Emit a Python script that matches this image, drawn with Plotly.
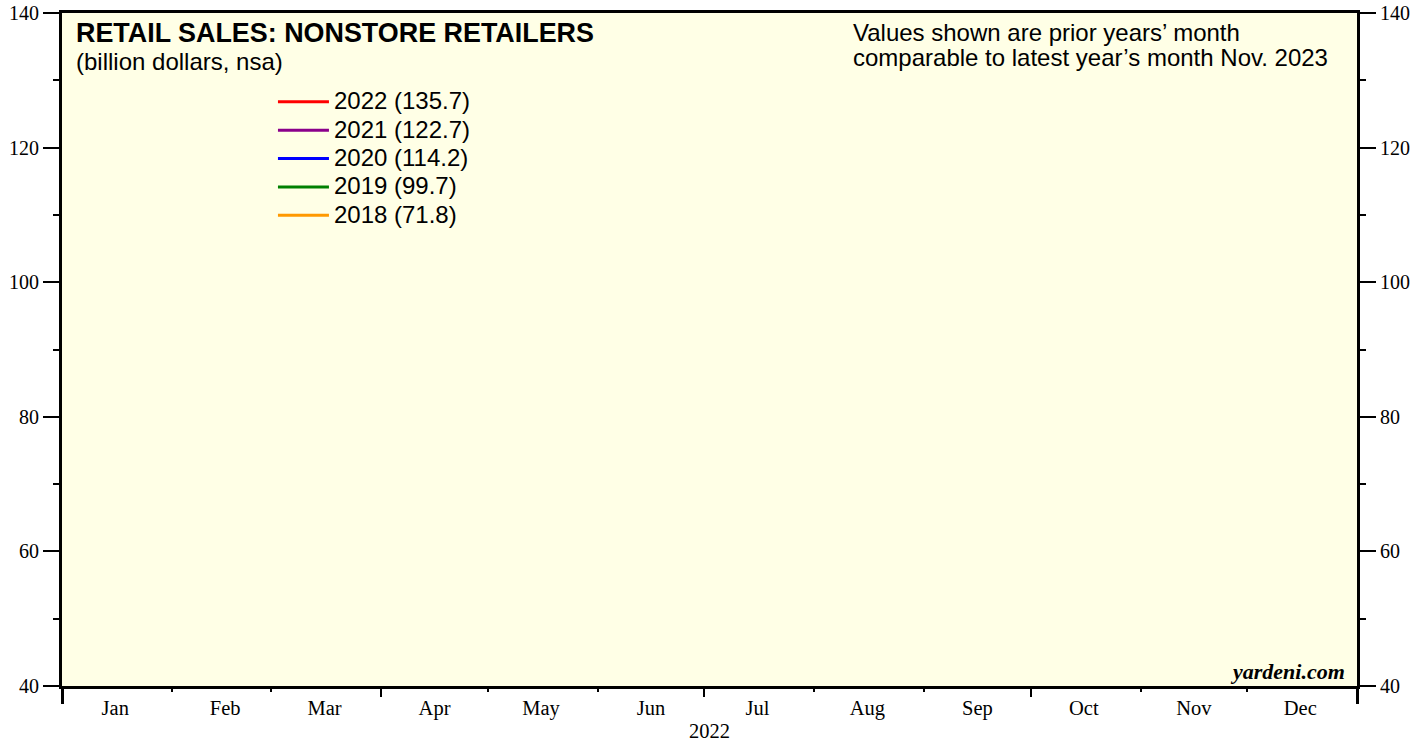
import plotly.graph_objects as go

# ---- data ----
years = ["2022", "2021", "2020", "2019", "2018"]
latest_values = [135.7, 122.7, 114.2, 99.7, 71.8]   # value for the month comparable to Nov. 2023
colors = ["#ff0000", "#8b008b", "#0000ff", "#008000", "#ff9900"]
months = ["Jan", "Feb", "Mar", "Apr", "May", "Jun", "Jul", "Aug", "Sep", "Oct", "Nov", "Dec"]
month_dates = ["2022-%02d-16" % (i + 1) for i in range(12)]
latest_month = "Nov"

fig = go.Figure()
for yr, val, col in zip(years, latest_values, colors):
    # only the comparable month's value is known; no line segments appear in the reference
    ys = [val if m == latest_month else None for m in months]
    fig.add_trace(go.Scatter(x=month_dates, y=ys, mode="lines",
                             name=f'<span style="font-size:24px">{yr} ({val})</span>',
                             line=dict(color=col, width=3)))

# helper traces for overlay axes
fig.add_trace(go.Scatter(x=[], y=[], xaxis="x2", yaxis="y", showlegend=False))
fig.add_trace(go.Scatter(x=[], y=[], xaxis="x3", yaxis="y", showlegend=False))
fig.add_trace(go.Scatter(x=[], y=[], xaxis="x", yaxis="y2", showlegend=False))

serif = "Liberation Serif, Times New Roman, serif"
sans = "Liberation Sans, Arial, sans-serif"
xr = ["2022-01-01", "2023-01-01"]
ytick = dict(family=serif, size=20, color="black")

fig.update_layout(
    width=1427, height=742,
    margin=dict(l=62, r=70, t=13, b=56),
    paper_bgcolor="white", plot_bgcolor="#ffffe6",
    showlegend=True,
    legend=dict(x=0.1629, y=0.8965, xanchor="left", yanchor="top", itemwidth=51,
                bgcolor="rgba(0,0,0,0)", font=dict(family=sans, size=19.5, color="black"),
                tracegroupgap=0),
    xaxis=dict(type="date", range=xr, showgrid=False, zeroline=False, automargin=False,
               showline=True, linewidth=3, linecolor="black", mirror=True,
               tick0="2022-01-01", dtick="M3", ticks="outside", ticklen=8, tickwidth=2,
               tickcolor="black", showticklabels=False,
               minor=dict(dtick="M1", ticks="outside", ticklen=3, tickwidth=2, tickcolor="black")),
    xaxis2=dict(type="date", range=xr, overlaying="x", side="bottom", showgrid=False,
                zeroline=False, showline=False, ticks="", tickmode="array", automargin=False,
                tickvals=month_dates, ticktext=months, ticklabelstandoff=7,
                ticklabeloverflow="allow",
                tickfont=dict(family=serif, size=20.5, color="black"),
                title=dict(text="2022", font=dict(family=serif, size=20.5, color="black"), standoff=5)),
    xaxis3=dict(type="date", range=xr, overlaying="x", side="bottom", showgrid=False,
                zeroline=False, showline=False, ticks="outside", ticklen=17, tickwidth=3,
                tickcolor="black", tickmode="array", tickvals=xr, showticklabels=False,
                automargin=False),
    yaxis=dict(range=[40, 140], dtick=20, showgrid=False, zeroline=False, automargin=False,
               showline=True, linewidth=3, linecolor="black", ticklabeloverflow="allow",
               ticks="outside", ticklen=16, tickwidth=1.5, tickcolor="black", tickfont=ytick,
               minor=dict(dtick=10, ticks="outside", ticklen=6, tickwidth=1.5, tickcolor="black")),
    yaxis2=dict(range=[40, 140], dtick=20, overlaying="y", side="right", showgrid=False,
                zeroline=False, showline=True, linewidth=3, linecolor="black", automargin=False,
                ticklabeloverflow="allow",
                ticks="outside", ticklen=16, tickwidth=1.5, tickcolor="black", tickfont=ytick,
                minor=dict(dtick=10, ticks="outside", ticklen=6, tickwidth=1.5, tickcolor="black")),
)

fig.add_annotation(xref="paper", yref="paper", x=0.0093, y=0.9703, xanchor="left", yanchor="middle",
                   text="<b>RETAIL SALES: NONSTORE RETAILERS</b>", showarrow=False,
                   font=dict(family=sans, size=26.9, color="black"))
fig.add_annotation(xref="paper", yref="paper", x=0.0093, y=0.9272, xanchor="left", yanchor="middle",
                   text="(billion dollars, nsa)", showarrow=False,
                   font=dict(family=sans, size=24, color="black"))
fig.add_annotation(xref="paper", yref="paper", x=0.6093, y=0.9703, xanchor="left", yanchor="middle",
                   text="Values shown are prior years\u2019 month",
                   showarrow=False, font=dict(family=sans, size=24, color="black"))
fig.add_annotation(xref="paper", yref="paper", x=0.6093, y=0.9346, xanchor="left", yanchor="middle",
                   text="comparable to latest year\u2019s month Nov. 2023",
                   showarrow=False, font=dict(family=sans, size=24, color="black"))
fig.add_annotation(xref="paper", yref="paper", x=0.9925, y=0.0, xanchor="right", yanchor="bottom",
                   text="<b><i>yardeni.com</i></b>", showarrow=False,
                   font=dict(family=serif, size=22, color="black"))

fig.write_html("out.html", config={"displayModeBar": False},
               post_script="document.body.style.margin='0px';")
